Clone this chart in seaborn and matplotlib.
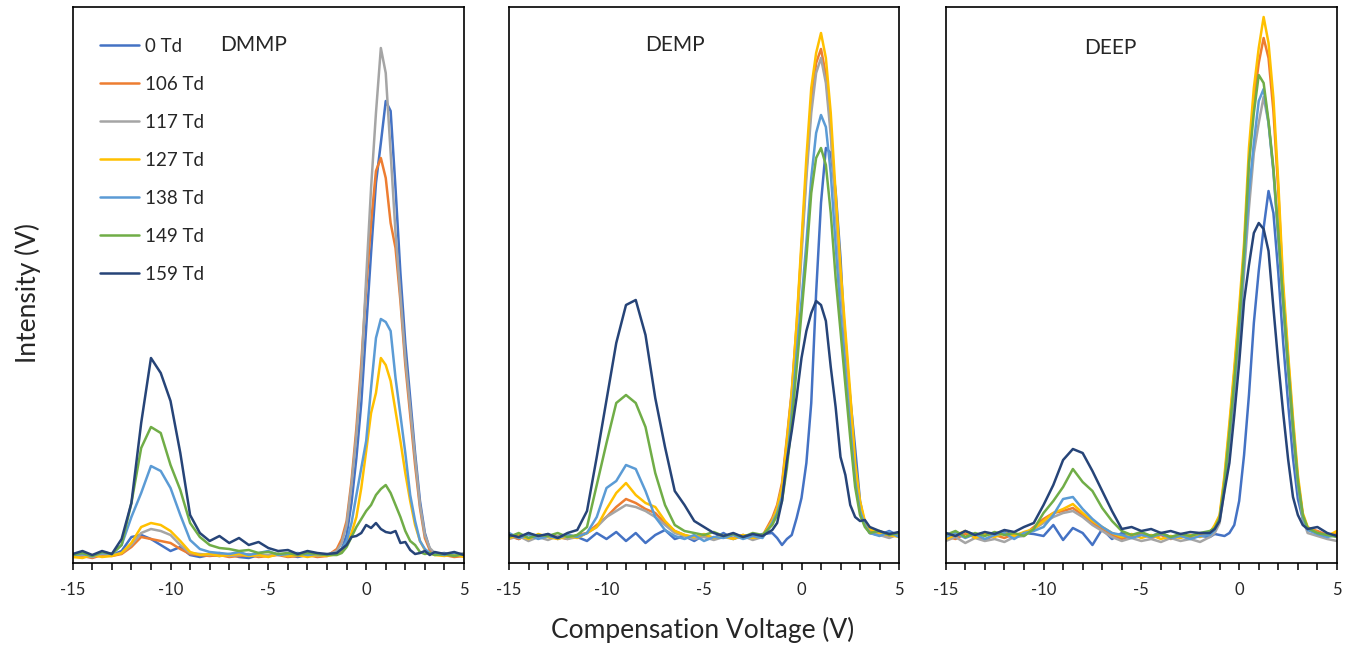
import numpy as np
import pandas as pd
import matplotlib.pyplot as plt
from matplotlib.ticker import MultipleLocator
import seaborn as sns

# ------------------------------------------------------------------
# Daten: Kompensationsspannung und Intensitaet je Feldstaerke
# ------------------------------------------------------------------
cv = np.concatenate([np.arange(-15, -1.5, 0.5),
                     np.arange(-1.5, 3.75, 0.25),
                     np.arange(4, 5.5, 0.5)])

fields = ['0 Td', '106 Td', '117 Td', '127 Td', '138 Td', '149 Td', '159 Td']
colors = ['#4472C4', '#ED7D31', '#A5A5A5', '#FFC000', '#5B9BD5', '#70AD47', '#264478']
compounds = ['DMMP', 'DEMP', 'DEEP']

# DMMP
dmmp_0 = [8, 9, 7, 10, 8, 12, 26, 28, 24, 18, 12, 16, 8, 6, 8, 7, 9, 6, 5, 8, 7, 9, 8, 6, 8, 7, 8,
          10, 14, 28, 60, 105, 160, 235, 310, 380, 420, 462, 452, 375, 290, 220, 165, 110, 62, 30, 14, 9,
          10, 7, 9]
dmmp_106 = [6, 7, 5, 8, 7, 9, 16, 26, 24, 22, 20, 14, 9, 8, 7, 8, 6, 7, 8, 6, 7, 8, 6, 7, 8, 6, 7,
            14, 24, 42, 82, 135, 200, 275, 340, 392, 405, 385, 340, 315, 262, 198, 148, 98, 55, 25, 13, 9,
            8, 6, 7]
dmmp_117 = [7, 8, 6, 9, 8, 10, 18, 30, 34, 32, 28, 18, 10, 9, 8, 10, 7, 8, 9, 7, 8, 9, 7, 8, 9, 7, 8,
            12, 20, 38, 78, 128, 190, 285, 375, 450, 515, 490, 410, 330, 268, 205, 155, 105, 58, 28, 15, 10,
            9, 8, 10]
dmmp_127 = [6, 5, 8, 6, 7, 10, 20, 36, 40, 38, 32, 22, 11, 8, 9, 7, 8, 9, 7, 8, 6, 9, 7, 8, 6, 8, 7,
            9, 11, 18, 30, 46, 75, 112, 150, 170, 205, 198, 182, 152, 122, 90, 62, 38, 22, 13, 10, 8,
            7, 9, 6]
dmmp_138 = [8, 9, 7, 10, 9, 18, 46, 70, 97, 92, 75, 48, 23, 14, 11, 10, 9, 11, 8, 10, 12, 8, 9, 10, 8, 9, 8,
            10, 14, 22, 40, 68, 95, 122, 175, 225, 244, 241, 232, 185, 148, 110, 68, 42, 22, 14, 10, 9,
            8, 10, 8]
dmmp_149 = [8, 10, 7, 11, 9, 18, 60, 115, 136, 130, 98, 73, 40, 26, 18, 15, 14, 12, 13, 10, 11, 9, 10, 8, 10, 9, 8,
            8, 10, 16, 26, 36, 44, 52, 58, 68, 74, 78, 70, 58, 46, 32, 22, 18, 11, 9, 10, 8,
            9, 7, 9]
dmmp_159 = [9, 12, 8, 12, 9, 24, 60, 140, 205, 190, 162, 110, 48, 30, 22, 27, 20, 25, 18, 21, 15, 12, 13, 9, 12, 10, 9,
            10, 14, 18, 26, 27, 30, 38, 35, 40, 34, 31, 30, 32, 20, 21, 13, 9, 10, 12, 8, 11,
            9, 11, 8]

# DEMP
demp_0 = [28, 24, 30, 25, 29, 24, 28, 26, 22, 30, 24, 31, 22, 30, 20, 28, 33, 24, 27, 22, 28, 25, 30, 24, 28, 26, 29,
          30, 25, 18, 24, 28, 45, 65, 100, 160, 270, 360, 415, 410, 372, 305, 212, 165, 115, 62, 38, 30,
          28, 32, 27]
demp_106 = [27, 24, 29, 25, 28, 26, 24, 28, 30, 38, 46, 56, 64, 60, 54, 50, 40, 32, 28, 25, 28, 24, 27, 25, 28, 24, 27,
            45, 58, 80, 125, 172, 238, 315, 392, 460, 500, 514, 488, 435, 360, 285, 225, 162, 96, 58, 40, 32,
            30, 27, 31]
demp_117 = [24, 27, 22, 26, 23, 27, 24, 26, 30, 36, 46, 52, 58, 56, 52, 46, 38, 30, 27, 24, 26, 23, 26, 24, 27, 23, 26,
            42, 55, 76, 120, 168, 232, 308, 385, 450, 490, 505, 480, 428, 355, 280, 220, 158, 94, 56, 38, 30,
            28, 25, 29]
demp_127 = [25, 28, 24, 29, 26, 24, 27, 25, 30, 36, 54, 70, 80, 68, 60, 56, 42, 32, 28, 26, 29, 25, 27, 24, 28, 25, 27,
            42, 55, 76, 122, 170, 240, 322, 405, 475, 510, 530, 505, 450, 370, 295, 232, 170, 100, 62, 42, 34,
            30, 28, 26]
demp_138 = [30, 25, 28, 24, 27, 25, 28, 26, 30, 46, 75, 82, 98, 94, 72, 46, 33, 27, 24, 28, 22, 26, 25, 28, 24, 27, 25,
            40, 50, 66, 100, 150, 210, 262, 320, 385, 430, 448, 436, 390, 318, 250, 190, 135, 82, 52, 38, 30,
            27, 31, 26]
demp_149 = [26, 30, 25, 28, 27, 30, 26, 28, 36, 78, 120, 160, 168, 160, 136, 90, 58, 38, 32, 30, 28, 31, 27, 29, 26, 30, 28,
            38, 48, 62, 95, 140, 195, 250, 305, 370, 405, 415, 398, 350, 285, 232, 178, 125, 76, 48, 36, 30,
            32, 28, 30]
demp_159 = [28, 26, 30, 27, 29, 25, 30, 33, 52, 106, 163, 220, 258, 263, 228, 165, 116, 72, 58, 42, 36, 30, 27, 30, 26, 29, 27,
            33, 40, 62, 102, 132, 166, 205, 232, 250, 262, 258, 242, 196, 156, 106, 88, 58, 46, 42, 43, 36,
            32, 29, 31]

# DEEP
deep_0 = [30, 26, 32, 28, 30, 27, 31, 28, 30, 29, 27, 38, 23, 35, 30, 18, 34, 24, 30, 26, 29, 27, 30, 26, 28, 25, 27,
          26, 29, 28, 27, 30, 38, 62, 108, 168, 240, 292, 335, 372, 350, 290, 220, 160, 105, 64, 44, 34,
          30, 27, 29]
deep_106 = [27, 24, 29, 26, 23, 28, 25, 29, 28, 36, 44, 50, 52, 55, 48, 40, 34, 28, 24, 27, 30, 25, 28, 24, 27, 25, 28,
            31, 36, 46, 84, 134, 190, 248, 312, 400, 462, 500, 525, 505, 452, 372, 272, 204, 140, 84, 48, 35,
            32, 28, 30]
deep_117 = [22, 26, 20, 25, 22, 24, 21, 26, 27, 34, 40, 46, 50, 52, 46, 38, 32, 26, 22, 25, 22, 24, 21, 25, 22, 24, 21,
            26, 30, 40, 74, 120, 170, 222, 290, 355, 410, 440, 466, 440, 392, 325, 258, 192, 130, 78, 44, 30,
            27, 24, 22]
deep_127 = [24, 28, 32, 25, 29, 26, 30, 27, 31, 34, 42, 50, 54, 59, 50, 42, 36, 30, 26, 29, 25, 28, 24, 27, 25, 28, 26,
            30, 38, 48, 88, 140, 195, 255, 320, 415, 475, 515, 546, 520, 465, 380, 280, 210, 145, 88, 50, 36,
            30, 27, 32]
deep_138 = [26, 30, 25, 29, 24, 28, 30, 24, 30, 32, 36, 48, 64, 66, 54, 44, 36, 30, 28, 25, 28, 26, 29, 25, 27, 24, 27,
            28, 33, 44, 78, 126, 178, 232, 300, 370, 420, 462, 474, 440, 392, 325, 260, 195, 134, 80, 46, 33,
            29, 26, 28]
deep_149 = [28, 32, 26, 30, 27, 31, 28, 30, 27, 34, 50, 62, 76, 94, 81, 72, 55, 42, 32, 28, 31, 27, 30, 26, 29, 27, 30,
            32, 35, 45, 80, 130, 182, 240, 310, 400, 450, 488, 480, 442, 395, 330, 262, 198, 136, 82, 48, 35,
            30, 28, 26]
deep_159 = [30, 27, 32, 28, 31, 29, 33, 31, 36, 40, 58, 78, 103, 114, 110, 92, 72, 52, 34, 36, 32, 34, 30, 32, 29, 31, 30,
            30, 34, 42, 72, 100, 148, 200, 262, 298, 330, 340, 334, 312, 255, 200, 150, 104, 66, 48, 38, 34,
            36, 30, 27]

series = {
    'DMMP': [dmmp_0, dmmp_106, dmmp_117, dmmp_127, dmmp_138, dmmp_149, dmmp_159],
    'DEMP': [demp_0, demp_106, demp_117, demp_127, demp_138, demp_149, demp_159],
    'DEEP': [deep_0, deep_106, deep_117, deep_127, deep_138, deep_149, deep_159],
}

frames = []
for comp in compounds:
    for field, vals in zip(fields, series[comp]):
        assert len(vals) == len(cv), (comp, field, len(vals))
        frames.append(pd.DataFrame({'CV': cv, 'Intensity': vals,
                                    'Field': field, 'Compound': comp}))
df = pd.concat(frames, ignore_index=True)

# ------------------------------------------------------------------
# Plot
# ------------------------------------------------------------------
sns.set_theme(style='ticks')
plt.rcParams['font.family'] = ['Lato', 'DejaVu Sans']
plt.rcParams['axes.unicode_minus'] = False

W, H = 1356, 652
fig = plt.figure(figsize=(W / 100, H / 100), dpi=100)

panel_left = [72.7, 509, 945.7]
panel_width = [391.3, 390, 391.3]
title_pos = [(0.461, 0.932), (0.426, 0.932), (0.42, 0.926)]

for i, comp in enumerate(compounds):
    ax = fig.add_axes([panel_left[i] / W, (H - 563) / H, panel_width[i] / W, 556 / H])
    sns.lineplot(data=df[df['Compound'] == comp], x='CV', y='Intensity',
                 hue='Field', hue_order=fields, palette=colors,
                 estimator=None, linewidth=1.8, legend=False, ax=ax)
    ax.set_xlim(-15, 5)
    ax.set_ylim(0, 556)
    ax.set_xlabel('')
    ax.set_ylabel('')
    ax.set_yticks([])
    ax.xaxis.set_major_locator(MultipleLocator(5))
    ax.xaxis.set_minor_locator(MultipleLocator(1))
    ax.tick_params(axis='x', which='both', direction='out', length=5, width=1.1,
                   color='black', labelsize=12, pad=9)
    for sp in ax.spines.values():
        sp.set_visible(True)
        sp.set_color('black')
        sp.set_linewidth(1.2)
    ax.text(title_pos[i][0], title_pos[i][1], comp, transform=ax.transAxes,
            ha='center', va='center', fontsize=15)

    if i == 0:
        handles = ax.get_lines()[:len(fields)]
        ax.legend(handles, fields, loc='upper left', bbox_to_anchor=(0.07, 0.945),
                  frameon=False, fontsize=13.5, handlelength=2.1, handletextpad=0.3,
                  labelspacing=1.12, borderaxespad=0, borderpad=0)

fig.text(703 / W, 1 - 630 / H, 'Compensation Voltage (V)', ha='center', va='center', fontsize=19)
fig.text(28 / W, 1 - 293 / H, 'Intensity (V)', ha='center', va='center', rotation=90, fontsize=19)

fig.savefig('out.png', dpi=100)
